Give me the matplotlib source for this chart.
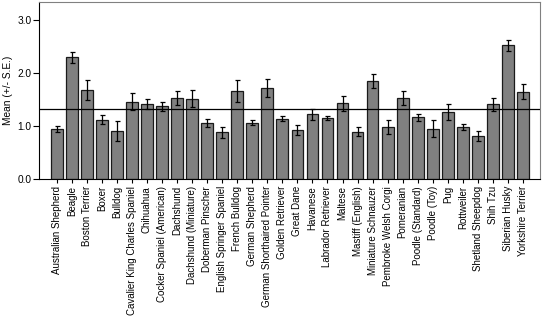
import matplotlib
import numpy as np

matplotlib.use("Agg")
import matplotlib.pyplot as plt

breeds = [
    "Australian Shepherd", "Beagle", "Boston Terrier", "Boxer", "Bulldog",
    "Cavalier King Charles Spaniel", "Chihuahua", "Cocker Spaniel (American)",
    "Dachshund", "Dachshund (Miniature)", "Doberman Pinscher",
    "English Springer Spaniel", "French Bulldog", "German Shepherd",
    "German Shorthaired Pointer", "Golden Retriever", "Great Dane", "Havanese",
    "Labrador Retriever", "Maltese", "Mastiff (English)", "Miniature Schnauzer",
    "Pembroke Welsh Corgi", "Pomeranian", "Poodle (Standard)", "Poodle (Toy)",
    "Pug", "Rottweiler", "Shetland Sheepdog", "Shih Tzu", "Siberian Husky",
    "Yorkshire Terrier",
]
means = [
    0.94, 2.29, 1.67, 1.12, 0.91, 1.46, 1.41, 1.37, 1.53, 1.51, 1.06, 0.88,
    1.66, 1.06, 1.71, 1.14, 0.92, 1.22, 1.155, 1.43, 0.89, 1.85, 0.985, 1.52,
    1.16, 0.95, 1.26, 0.985, 0.81, 1.41, 2.52, 1.645,
]
std_err = [
    0.06, 0.10, 0.19, 0.09, 0.185, 0.16, 0.09, 0.09, 0.13, 0.16, 0.08, 0.10,
    0.21, 0.05, 0.17, 0.055, 0.10, 0.10, 0.04, 0.14, 0.085, 0.135, 0.13, 0.135,
    0.07, 0.155, 0.15, 0.055, 0.09, 0.12, 0.105, 0.145,
]
overall_mean = 1.32

plt.rcParams["font.family"] = ["Liberation Sans", "DejaVu Sans"]

fig = plt.figure(figsize=(5.43, 3.18), dpi=100)
ax = fig.add_axes([0.0718, 0.437, 0.9227, 0.5577])

x = np.arange(len(breeds))
ax.bar(x, means, width=0.78, color="#808080", edgecolor="#1a1a1a", linewidth=0.9, zorder=2)
ax.errorbar(x, means, yerr=std_err, fmt="none", ecolor="black", elinewidth=0.9,
            capsize=1.8, capthick=0.9, zorder=3)
ax.axhline(overall_mean, color="black", linewidth=0.9, zorder=4)

ax.set_xlim(-1.18, 32.13)
ax.set_ylim(0, 3.34)
ax.set_yticks([0.0, 1.0, 2.0, 3.0])
ax.set_yticklabels(["0.0", "1.0", "2.0", "3.0"], fontsize=7.3)
ax.set_xticks(x)
ax.set_xticklabels(breeds, rotation=90, fontsize=7)
ax.tick_params(axis="y", direction="out", length=4, width=0.8, pad=1.5)
ax.tick_params(axis="x", direction="out", length=3, width=0.8, pad=2)
ax.set_ylabel("Mean (+/- S.E.)", fontsize=7.3, labelpad=3)

for side in ("top", "right"):
    ax.spines[side].set_color("#808080")
for side in ("left", "bottom"):
    ax.spines[side].set_color("black")

fig.savefig("out.png", dpi=100)
